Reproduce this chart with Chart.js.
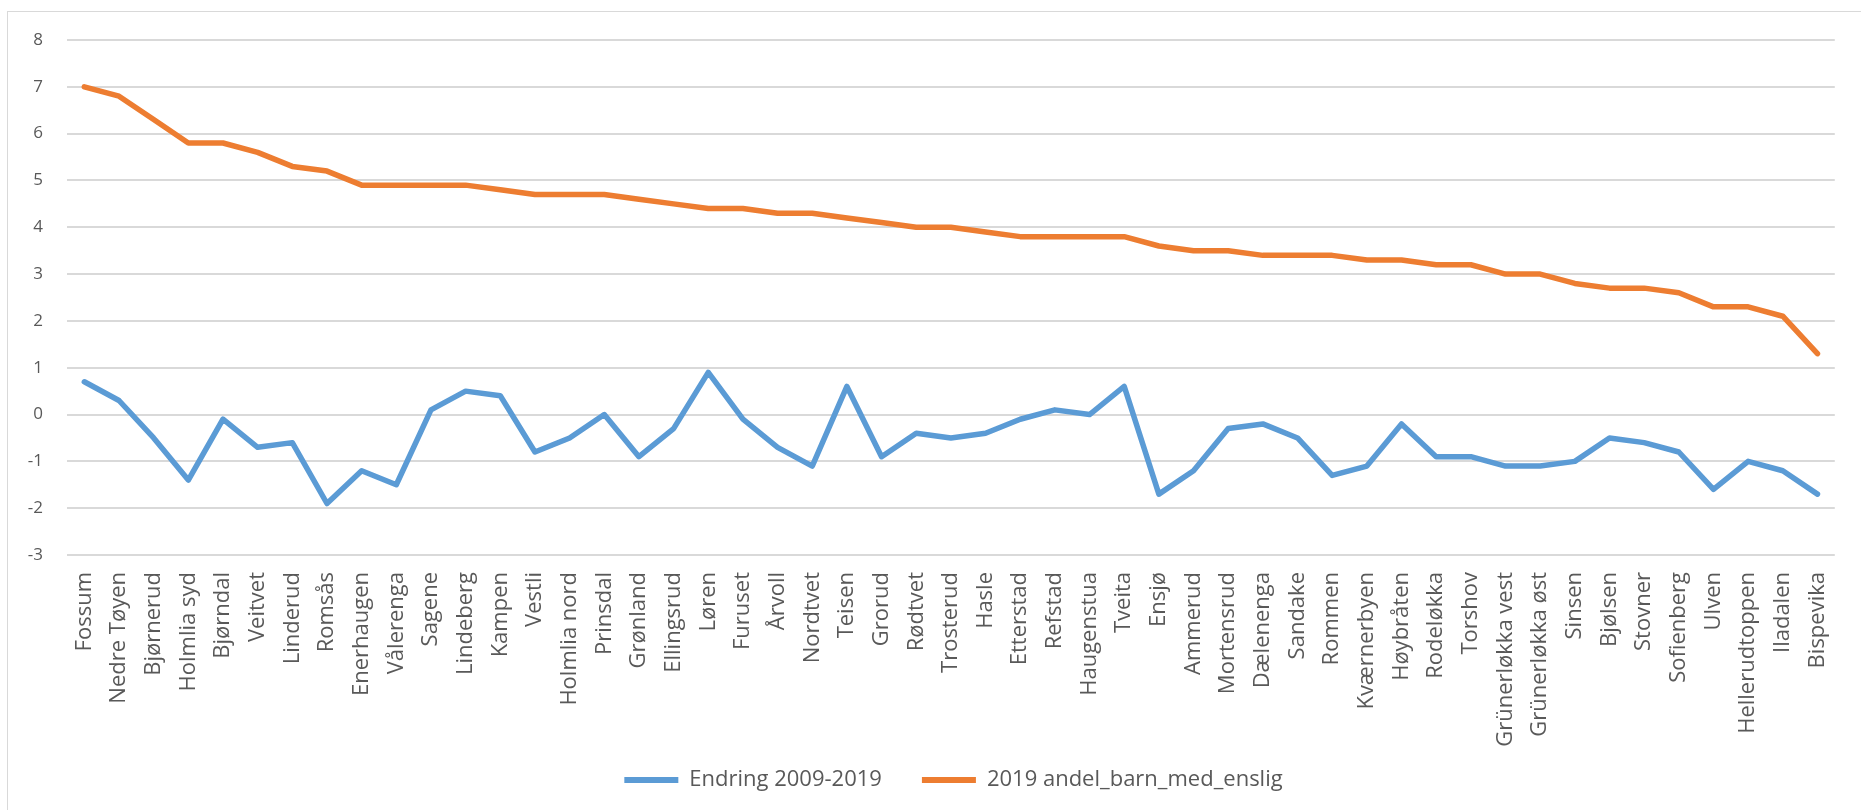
<!DOCTYPE html>
<html>
<head>
<meta charset="utf-8">
<script src="https://cdn.jsdelivr.net/npm/chart.js@4/dist/chart.umd.min.js"></script>
<style>
  html, body { margin: 0; padding: 0; background: #ffffff; }
  #wrap { position: relative; width: 1861px; height: 810px; overflow: hidden; }
  #frame { position: absolute; left: 7px; top: 11px; width: 1900px; height: 900px; border: 1px solid #d9d9d9; box-sizing: border-box; }
  #c { position: absolute; left: 0; top: 0; }
</style>
</head>
<body>
<div id="wrap">
  <div id="frame"></div>
  <canvas id="c" width="1861" height="810"></canvas>
</div>
<script>
const categories = ["Fossum","Nedre Tøyen","Bjørnerud","Holmlia syd","Bjørndal","Veitvet","Linderud","Romsås","Enerhaugen","Vålerenga","Sagene","Lindeberg","Kampen","Vestli","Holmlia nord","Prinsdal","Grønland","Ellingsrud","Løren","Furuset","Årvoll","Nordtvet","Teisen","Grorud","Rødtvet","Trosterud","Hasle","Etterstad","Refstad","Haugenstua","Tveita","Ensjø","Ammerud","Mortensrud","Dælenenga","Sandake","Rommen","Kværnerbyen","Høybråten","Rodeløkka","Torshov","Grünerløkka vest","Grünerløkka øst","Sinsen","Bjølsen","Stovner","Sofienberg","Ulven","Hellerudtoppen","Iladalen","Bispevika"];

const endring = [0.7,0.3,-0.5,-1.4,-0.1,-0.7,-0.6,-1.9,-1.2,-1.5,0.1,0.5,0.4,-0.8,-0.5,0.0,-0.9,-0.3,0.9,-0.1,-0.7,-1.1,0.6,-0.9,-0.4,-0.5,-0.4,-0.1,0.1,0.0,0.6,-1.7,-1.2,-0.3,-0.2,-0.5,-1.3,-1.1,-0.2,-0.9,-0.9,-1.1,-1.1,-1.0,-0.5,-0.6,-0.8,-1.6,-1.0,-1.2,-1.7];

const andel2019 = [7.0,6.8,6.3,5.8,5.8,5.6,5.3,5.2,4.9,4.9,4.9,4.9,4.8,4.7,4.7,4.7,4.6,4.5,4.4,4.4,4.3,4.3,4.2,4.1,4.0,4.0,3.9,3.8,3.8,3.8,3.8,3.6,3.5,3.5,3.4,3.4,3.4,3.3,3.3,3.2,3.2,3.0,3.0,2.8,2.7,2.7,2.6,2.3,2.3,2.1,1.3];

const seriesNames = ["Endring 2009-2019", "2019 andel_barn_med_enslig"];
const yTicks = { min: -3, max: 8, step: 1 };

const BLUE = "#5B9BD5";
const ORANGE = "#ED7D31";
const TEXT = "#595959";
const GRID = "#d9d9d9";

// let tick labels run past their axis boxes (they are not clipped in the original)
const unclipLabels = {
  id: "unclipLabels",
  afterLayout(chart) {
    chart.scales.x.bottom = chart.height;
    chart.scales.y.left = 0;
  }
};

const ctx = document.getElementById("c").getContext("2d");
new Chart(ctx, {
  type: "line",
  plugins: [unclipLabels],
  data: {
    labels: categories,
    datasets: [
      { label: seriesNames[0], data: endring, borderColor: BLUE, backgroundColor: BLUE, borderWidth: 5.5,
        pointRadius: 0, tension: 0, borderJoinStyle: "round", borderCapStyle: "round" },
      { label: seriesNames[1], data: andel2019, borderColor: ORANGE, backgroundColor: ORANGE, borderWidth: 5.5,
        pointRadius: 0, tension: 0, borderJoinStyle: "round", borderCapStyle: "round" }
    ]
  },
  options: {
    responsive: false,
    animation: false,
    devicePixelRatio: 1,
    layout: { padding: { left: 60, right: 14, top: 40, bottom: 9 } },
    plugins: {
      tooltip: { enabled: false },
      legend: {
        position: "bottom",
        labels: {
          font: { family: "'Open Sans'", size: 22 },
          color: TEXT,
          boxWidth: 54,
          boxHeight: 6,
          padding: 40,
          generateLabels: (chart) => {
            const items = Chart.defaults.plugins.legend.labels.generateLabels(chart);
            items.forEach(it => { it.fillStyle = it.strokeStyle; it.lineWidth = 0; });
            return items;
          }
        }
      }
    },
    scales: {
      x: {
        offset: true,
        grid: { display: false, drawTicks: false },
        border: { display: false },
        ticks: {
          autoSkip: false,
          maxRotation: 90,
          minRotation: 90,
          padding: 17,
          color: TEXT,
          font: { family: "'Open Sans'", size: 22 }
        },
        afterFit: (s) => { s.height = 174; }
      },
      y: {
        min: yTicks.min,
        max: yTicks.max,
        grid: { color: GRID, lineWidth: 2, drawTicks: false },
        border: { display: false },
        ticks: {
          stepSize: yTicks.step,
          padding: 24,
          color: TEXT,
          font: { family: "'Open Sans'", size: 17 }
        },
        afterFit: (s) => { s.width = 7; }
      }
    }
  }
});
</script>
</body>
</html>
